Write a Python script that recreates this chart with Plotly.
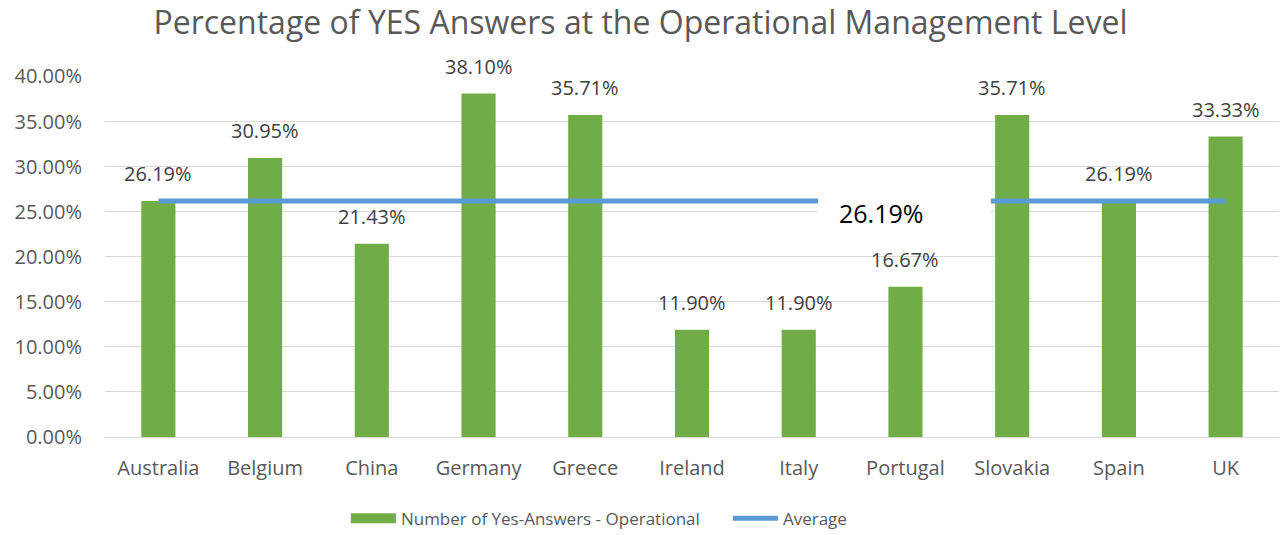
import plotly.graph_objects as go

countries = ["Australia", "Belgium", "China", "Germany", "Greece", "Ireland",
             "Italy", "Portugal", "Slovakia", "Spain", "UK"]
yes_pct = [26.19, 30.95, 21.43, 38.10, 35.71, 11.90, 11.90, 16.67, 35.71, 26.19, 33.33]
average = [26.19, 26.19, 26.19, 26.19, 26.19, 26.19, 26.19, 26.19, 26.19, 26.19, 26.19]
avg_label = "26.19%"
y_ticks = [0, 5, 10, 15, 20, 25, 30, 35, 40]

FONT = "Open Sans"
GREEN = "#70AD47"
BLUE = "#5B9BD5"

fig = go.Figure()
fig.add_trace(go.Bar(
    x=countries, y=yes_pct, name="Number of Yes-Answers - Operational",
    marker=dict(color=GREEN, line=dict(width=0)), showlegend=False,
))
# legend proxy for the bars (wide green swatch)
fig.add_trace(go.Scatter(
    x=[None], y=[None], name="Number of Yes-Answers - Operational", mode="lines",
    line=dict(color=GREEN, width=13), showlegend=True,
))
fig.add_trace(go.Scatter(
    x=countries, y=average, name="Average", mode="lines",
    line=dict(color=BLUE, width=5),
))

annotations = []
for c, v in zip(countries, yes_pct):
    annotations.append(dict(
        x=c, y=v, xref="x", yref="y", text=f"{v:.2f}%", showarrow=False,
        yanchor="bottom", yshift=12, font=dict(family=FONT, size=20, color="#404040"),
    ))
annotations.append(dict(
    x=6.77, y=24.9, xref="x", yref="y", text=avg_label, showarrow=False,
    xanchor="center", yanchor="middle",
    font=dict(family=FONT, size=25, color="#000000"),
))

shapes = [dict(type="rect", xref="x", yref="y", x0=6.18, x1=7.80, y0=23.9, y1=26.75,
               fillcolor="white", line=dict(width=0), layer="above")]

fig.update_layout(
    width=1281, height=535,
    margin=dict(l=105, r=2, t=76, b=98, autoexpand=False),
    plot_bgcolor="white", paper_bgcolor="white",
    title=dict(text="Percentage of YES Answers at the Operational Management Level",
               x=0.5, xanchor="center", y=0.957, yanchor="middle", yref="container",
               font=dict(family=FONT, size=32, color="#595959")),
    bargap=0.68,
    showlegend=True,
    legend=dict(orientation="h", x=0.2052, xanchor="left", y=-0.226, yanchor="middle",
                font=dict(family=FONT, size=17, color="#595959"),
                itemwidth=45, entrywidth=322, traceorder="normal"),
    annotations=annotations,
    shapes=shapes,
    font=dict(family=FONT, color="#595959"),
)
fig.update_xaxes(showgrid=False, showline=False, ticks="",
                 tickfont=dict(family=FONT, size=20, color="#595959"),
                 ticklabelstandoff=17)
fig.update_yaxes(range=[0, 40.05], tickvals=y_ticks,
                 ticktext=[f"{t:.2f}%" for t in y_ticks],
                 showgrid=True, gridcolor="#D9D9D9", gridwidth=1,
                 zeroline=True, zerolinecolor="#D9D9D9", zerolinewidth=1,
                 showline=False, ticks="", ticklabelstandoff=22,
                 tickfont=dict(family=FONT, size=20, color="#595959"))

fig.write_html("out.html", config={"displayModeBar": False},
               post_script="document.body.style.margin='0';document.body.style.overflow='hidden';")
